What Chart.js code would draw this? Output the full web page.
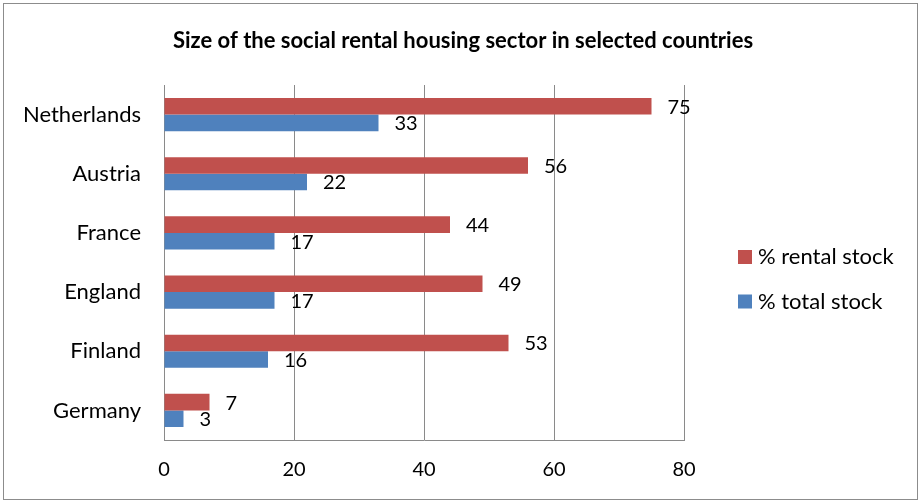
<!DOCTYPE html>
<html>
<head>
<meta charset="utf-8">
<script src="https://cdn.jsdelivr.net/npm/chart.js@4/dist/chart.umd.min.js"></script>
<style>
html,body{margin:0;padding:0;background:#fff}
#wrap{width:921px;height:502px;position:relative}
</style>
</head>
<body>
<div id="wrap"><canvas id="housingChart" width="921" height="502"></canvas></div>
<script>

/* =====================================================
DATA
===================================================== */

const countries=["Netherlands","Austria","France","England","Finland","Germany"]
const rentalStock=[75,56,44,49,53,7]
const totalStock=[33,22,17,17,16,3]
const seriesNames=["% rental stock","% total stock"]
const xTicks=[0,20,40,60,80]
const chartTitle="Size of the social rental housing sector in selected countries"

const FONT="Lato, 'Open Sans', sans-serif"
const RED="#C0504D"
const BLUE="#4F81BD"
const GRID="#8a8a8a"


/* =====================================================
PLUGINS: frame, title, value labels, legend
===================================================== */

const framePlugin={
id:"frame",
beforeDraw(chart){
const c=chart.ctx
c.save()
c.fillStyle="#fff"
c.fillRect(0,0,chart.width,chart.height)
c.strokeStyle="#8c8c8c"
c.lineWidth=1
c.strokeRect(3.5,3.5,chart.width-7,chart.height-6)
c.fillStyle="#000"
c.font="bold 22px "+FONT
c.textAlign="center"
c.textBaseline="middle"
c.fillText(chartTitle,463,41)
c.restore()
}
}

const valueLabels={
id:"valueLabels",
afterDatasetsDraw(chart){
const c=chart.ctx
c.save()
c.font="20px "+FONT
c.fillStyle="#000"
c.textBaseline="middle"
c.textAlign="left"
chart.data.datasets.forEach((ds,i)=>{
chart.getDatasetMeta(i).data.forEach((bar,j)=>{
c.fillText(ds.data[j],bar.x+16,bar.y+1)
})
})
c.restore()
}
}

const sideLegend={
id:"sideLegend",
afterDraw(chart){
const c=chart.ctx
c.save()
c.font="22px "+FONT
c.textBaseline="middle"
c.textAlign="left"
chart.data.datasets.forEach((ds,i)=>{
const y=257+i*44.5
c.fillStyle=ds.backgroundColor
c.fillRect(738,y-7,14,14)
c.fillStyle="#000"
c.fillText(ds.label,758,y)
})
c.restore()
}
}


/* =====================================================
CHART
===================================================== */

new Chart(document.getElementById("housingChart"),{
type:"bar",
data:{
labels:countries,
datasets:[
{label:seriesNames[0],data:rentalStock,backgroundColor:RED,borderWidth:0},
{label:seriesNames[1],data:totalStock,backgroundColor:BLUE,borderWidth:0}
]
},
options:{
indexAxis:"y",
responsive:false,
animation:false,
devicePixelRatio:1,
categoryPercentage:0.56,
barPercentage:1,
layout:{padding:{top:85,right:237,bottom:0,left:0}},
plugins:{
legend:{display:false},
tooltip:{enabled:false},
title:{display:false}
},
scales:{
x:{
min:0,
max:80,
afterBuildTicks(scale){scale.ticks=xTicks.map(v=>({value:v}))},
afterFit(scale){scale.height=62},
grid:{color:GRID,lineWidth:1,drawTicks:false},
border:{display:true,color:GRID},
ticks:{color:"#000",font:{family:FONT,size:20},padding:18}
},
y:{
afterFit(scale){scale.width=164},
grid:{display:false,drawTicks:false},
border:{display:true,color:GRID},
ticks:{color:"#000",font:{family:FONT,size:22},padding:23}
}
}
},
plugins:[framePlugin,valueLabels,sideLegend]
})

</script>
</body>
</html>
